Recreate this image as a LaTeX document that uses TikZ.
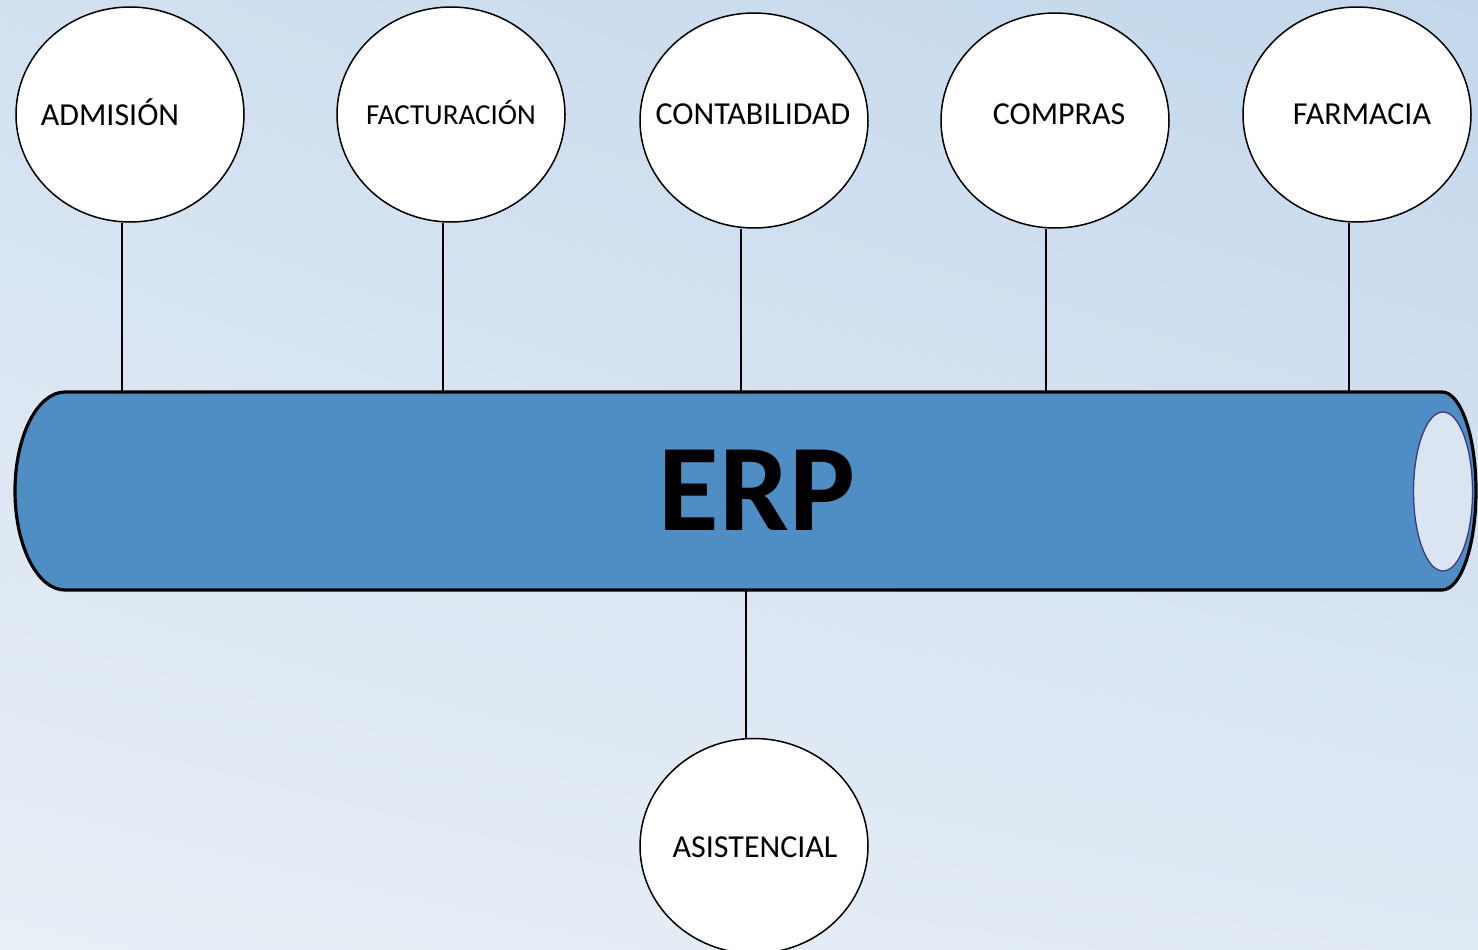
\documentclass[tikz,border=0pt]{standalone}
\usepackage{fontspec}
\setmainfont{Carlito}
\usetikzlibrary{shapes.geometric,shadings}
\definecolor{bgA}{HTML}{D2E1F0}
\definecolor{bgB}{HTML}{C3D7EB}
\definecolor{bgC}{HTML}{E8EFF7}
\definecolor{bgD}{HTML}{E0EAF5}
\definecolor{cylfill}{HTML}{4F8EC4}
\definecolor{holefill}{HTML}{DAE5F1}
\definecolor{holedraw}{HTML}{3A3A85}
\tikzset{
  mod/.style={ellipse, draw=black, line width=1.5pt, fill=white, minimum width=228pt, minimum height=215pt, inner sep=0pt},
  modtext/.style={font=\fontsize{32}{38}\selectfont, text height=0.644em, text depth=0pt, inner sep=0pt},
  modsmall/.style={modtext, font=\fontsize{29}{34}\selectfont},
  link/.style={draw=black, line width=1.5pt},
  cyl/.style={draw=black, line width=3.2pt, fill=cylfill},
}
\begin{document}
\begin{tikzpicture}[x=1pt,y=-1pt]
\useasboundingbox (0,0) rectangle (1478,950);
\shade[lower left=bgC, upper left=bgA, upper right=bgB, lower right=bgD] (0,0) rectangle (1478,950);

% connection points on the pipe
\coordinate (p1) at (122,392);
\coordinate (p2) at (443,392);
\coordinate (p3) at (741,392);
\coordinate (p4) at (1046,392);
\coordinate (p5) at (1349,392);
\coordinate (p6) at (746,590);

% modules
\node[mod, label={[modtext, xshift=-20pt, yshift=-8pt]center:ADMISIÓN}] (adm) at (130,114.5) {};
\node[mod, label={[modsmall, yshift=-6.5pt]center:FACTURACIÓN}] (fac) at (451,114.5) {};
\node[mod, label={[modtext, xshift=-1pt, yshift=-0.5pt]center:CONTABILIDAD}] (con) at (754,120.5) {};
\node[mod, label={[modtext, xshift=4pt, yshift=-0.5pt]center:COMPRAS}] (com) at (1055,120.5) {};
\node[mod, label={[modtext, xshift=5pt, yshift=-6.5pt]center:FARMACIA}] (far) at (1357,114.5) {};
\node[mod, label={[modtext, xshift=1pt, yshift=-8pt]center:ASISTENCIAL}] (asi) at (754,846) {};

% connectors
\draw[link] (adm.south -| p1) -- (p1);
\draw[link] (fac.south -| p2) -- (p2);
\draw[link] (con.south -| p3) -- (p3);
\draw[link] (com.south -| p4) -- (p4);
\draw[link] (far.south -| p5) -- (p5);
\draw[link] (asi.north -| p6) -- (p6);

% pipe
\draw[cyl] (65,392) -- (1442,392)
  .. controls (1460.8,392) and (1476,436.3) .. (1476,491)
  .. controls (1476,545.7) and (1460.8,590) .. (1442,590)
  -- (65,590)
  .. controls (37.4,590) and (15,545.7) .. (15,491)
  .. controls (15,436.3) and (37.4,392) .. (65,392) -- cycle;
\node[ellipse, draw=holedraw, line width=1.3pt, fill=holefill, minimum width=59pt, minimum height=159pt, inner sep=0pt] (hole) at (1443,491.5) {};
\node[font=\fontsize{124}{130}\selectfont\bfseries, inner sep=0pt] (erp) at (757,490) {ERP};
\end{tikzpicture}
\end{document}
